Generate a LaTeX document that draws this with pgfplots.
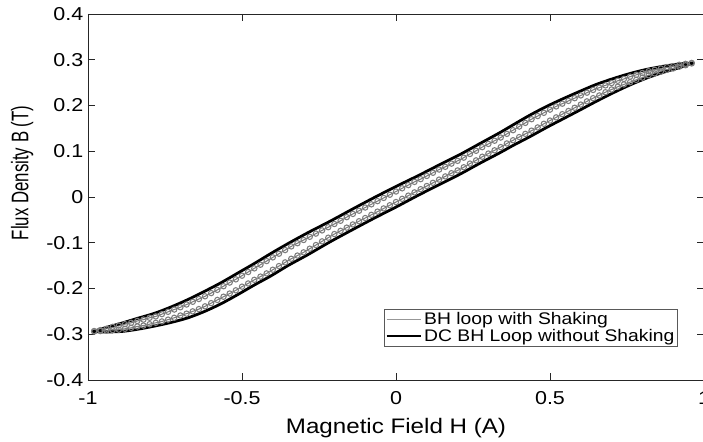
\documentclass[border=0pt]{standalone}
\usepackage{pgfplots}
\usepackage{pgfplotstable}
\pgfplotsset{compat=1.18}
\usepackage{fontspec}
\setmainfont{Liberation Sans}[FakeStretch=1.15]
\newfontfamily\ylabfont{Liberation Sans}[FakeStretch=0.7]
\definecolor{shk}{RGB}{125,125,125}
\definecolor{axc}{RGB}{38,38,38}

\pgfplotstableread{
H B
0.965 0.293
0.922 0.291
0.870 0.286
0.814 0.279
0.760 0.270
0.706 0.259
0.650 0.246
0.597 0.231
0.543 0.215
0.489 0.198
0.435 0.179
0.381 0.158
0.338 0.141
0.273 0.117
0.208 0.093
0.140 0.070
0.070 0.046
0.000 0.023
-0.070 -0.001
-0.140 -0.026
-0.214 -0.053
-0.286 -0.078
-0.351 -0.102
-0.405 -0.123
-0.459 -0.145
-0.513 -0.166
-0.567 -0.187
-0.621 -0.206
-0.675 -0.224
-0.729 -0.240
-0.783 -0.254
-0.838 -0.265
-0.892 -0.276
-0.940 -0.285
-0.984 -0.294
}\blackup

\pgfplotstableread{
H B
-0.984 -0.294
-0.950 -0.295
-0.892 -0.294
-0.838 -0.289
-0.783 -0.282
-0.729 -0.274
-0.675 -0.264
-0.621 -0.250
-0.567 -0.233
-0.513 -0.213
-0.459 -0.192
-0.405 -0.172
-0.351 -0.150
-0.286 -0.126
-0.214 -0.098
-0.140 -0.071
-0.070 -0.046
0.000 -0.022
0.070 0.003
0.140 0.027
0.208 0.050
0.273 0.074
0.338 0.097
0.381 0.113
0.435 0.132
0.489 0.152
0.543 0.171
0.597 0.190
0.650 0.209
0.706 0.228
0.760 0.245
0.814 0.260
0.870 0.273
0.922 0.283
0.965 0.293
}\blacklow

\pgfplotstableread{
H B
0.96 0.293
0.94 0.291
0.92 0.289
0.90 0.286
0.88 0.284
0.86 0.281
0.84 0.278
0.82 0.275
0.80 0.271
0.78 0.267
0.76 0.263
0.74 0.258
0.72 0.254
0.70 0.249
0.68 0.244
0.66 0.239
0.64 0.234
0.62 0.228
0.60 0.222
0.58 0.216
0.56 0.210
0.54 0.204
0.52 0.198
0.50 0.191
0.48 0.184
0.46 0.177
0.44 0.170
0.42 0.162
0.40 0.154
0.38 0.146
0.36 0.138
0.34 0.130
0.32 0.123
0.30 0.116
0.28 0.109
0.26 0.101
0.24 0.094
0.22 0.086
0.20 0.079
0.18 0.073
0.16 0.066
0.14 0.060
0.12 0.053
0.10 0.046
0.08 0.039
0.06 0.033
0.04 0.026
0.02 0.019
0.00 0.012
-0.02 0.005
-0.04 -0.002
-0.06 -0.009
-0.08 -0.016
-0.10 -0.023
-0.12 -0.030
-0.14 -0.037
-0.16 -0.044
-0.18 -0.052
-0.20 -0.059
-0.22 -0.066
-0.24 -0.073
-0.26 -0.080
-0.28 -0.087
-0.30 -0.094
-0.32 -0.101
-0.34 -0.108
-0.36 -0.116
-0.38 -0.124
-0.40 -0.132
-0.42 -0.140
-0.44 -0.148
-0.46 -0.156
-0.48 -0.164
-0.50 -0.172
-0.52 -0.180
-0.54 -0.187
-0.56 -0.195
-0.58 -0.203
-0.60 -0.210
-0.62 -0.217
-0.64 -0.223
-0.66 -0.229
-0.68 -0.235
-0.70 -0.241
-0.72 -0.246
-0.74 -0.251
-0.76 -0.256
-0.78 -0.261
-0.80 -0.264
-0.82 -0.268
-0.84 -0.271
-0.86 -0.275
-0.88 -0.278
-0.90 -0.281
-0.92 -0.284
-0.94 -0.288
-0.96 -0.291
-0.98 -0.293
}\grayup

\pgfplotstableread{
H B
-0.98 -0.294
-0.96 -0.293
-0.94 -0.292
-0.92 -0.291
-0.90 -0.290
-0.88 -0.288
-0.86 -0.286
-0.84 -0.283
-0.82 -0.281
-0.80 -0.278
-0.78 -0.275
-0.76 -0.272
-0.74 -0.268
-0.72 -0.264
-0.70 -0.259
-0.68 -0.255
-0.66 -0.250
-0.64 -0.245
-0.62 -0.239
-0.60 -0.232
-0.58 -0.225
-0.56 -0.218
-0.54 -0.211
-0.52 -0.204
-0.50 -0.196
-0.48 -0.189
-0.46 -0.181
-0.44 -0.174
-0.42 -0.167
-0.40 -0.159
-0.38 -0.151
-0.36 -0.143
-0.34 -0.135
-0.32 -0.128
-0.30 -0.121
-0.28 -0.113
-0.26 -0.105
-0.24 -0.097
-0.22 -0.089
-0.20 -0.081
-0.18 -0.074
-0.16 -0.067
-0.14 -0.060
-0.12 -0.053
-0.10 -0.046
-0.08 -0.039
-0.06 -0.032
-0.04 -0.025
-0.02 -0.018
0.00 -0.011
0.02 -0.004
0.04 0.003
0.06 0.010
0.08 0.017
0.10 0.024
0.12 0.031
0.14 0.038
0.16 0.045
0.18 0.052
0.20 0.058
0.22 0.065
0.24 0.073
0.26 0.080
0.28 0.088
0.30 0.095
0.32 0.102
0.34 0.109
0.36 0.117
0.38 0.124
0.40 0.131
0.42 0.138
0.44 0.145
0.46 0.152
0.48 0.160
0.50 0.167
0.52 0.174
0.54 0.181
0.56 0.188
0.58 0.195
0.60 0.202
0.62 0.209
0.64 0.216
0.66 0.222
0.68 0.229
0.70 0.235
0.72 0.241
0.74 0.246
0.76 0.251
0.78 0.256
0.80 0.261
0.82 0.266
0.84 0.270
0.86 0.274
0.88 0.278
0.90 0.281
0.92 0.285
0.94 0.288
0.96 0.292
}\graylow

\begin{document}
\begin{tikzpicture}
\path[use as bounding box] (-66pt,-46.5pt) rectangle (461.25pt,285pt);
\begin{axis}[
  at={(0,0)}, anchor=south west,
  scale only axis, width=462pt, height=274.5pt,
  xmin=-1, xmax=1, ymin=-0.4, ymax=0.4,
  xtick={-1,-0.5,0,0.5,1},
  ytick={-0.4,-0.3,-0.2,-0.1,0,0.1,0.2,0.3,0.4},
  tick align=inside, major tick length=5pt,
  axis line style={axc, line width=0.6pt},
  every tick/.style={axc, line width=0.6pt},
  tick label style={font=\fontsize{14}{16}\selectfont, text=black},
  xticklabel style={yshift=-5pt},
  /pgf/number format/assume math mode=true,
  xlabel={Magnetic Field H (A)},
  ylabel={\ylabfont Flux Density B (T)},
  xlabel style={font=\fontsize{15.75}{18}\selectfont, at={(axis description cs:0.5,-0.13)}, anchor=center},
  ylabel style={font=\fontsize{18}{20}\selectfont, at={(axis description cs:-0.107,0.566)}, anchor=center},
  legend image code/.code={\draw[#1] (0pt,0pt) -- (26pt,0pt);},
  legend style={at={(axis description cs:0.958,0.090)}, anchor=south east,
    draw=black!65, line width=0.5pt, fill=white,
    font=\fontsize{12.6}{15}\selectfont, inner xsep=1pt, inner ysep=1pt,
    nodes={inner sep=1.5pt}, row sep=-1pt},
  legend cell align=left,
]
\addplot[shk, line width=0.8pt, smooth, mark=o, mark size=2pt, mark options={line width=0.8pt, solid}, forget plot] table {\grayup};
\addplot[shk, line width=0.8pt, smooth, mark=o, mark size=2pt, mark options={line width=0.8pt, solid}, forget plot] table {\graylow};
\addplot[black, line width=2.1pt, smooth, tension=0.5, line cap=round, forget plot] table {\blackup};
\addplot[black, line width=2.1pt, smooth, tension=0.5, line cap=round, forget plot] table {\blacklow};
\addlegendimage{shk!80, line width=0.6pt}
\addlegendentry{BH loop with Shaking}
\addlegendimage{black, line width=1.5pt}
\addlegendentry{DC BH Loop without Shaking}
\end{axis}
\end{tikzpicture}
\end{document}
